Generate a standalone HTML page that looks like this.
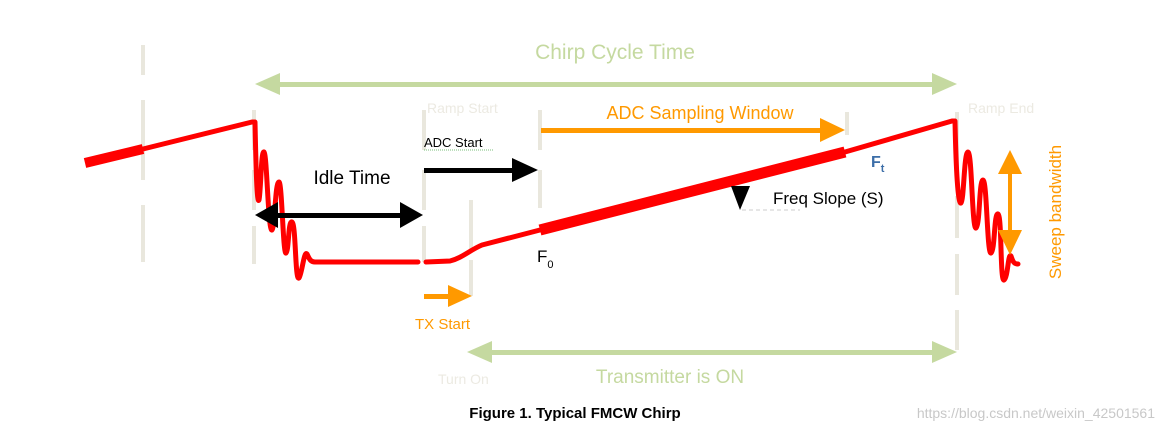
<!DOCTYPE html>
<html><head><style>
body{margin:0;background:#fff;}
svg text{font-family:"Liberation Sans",sans-serif;}
</style></head><body>
<svg width="1162" height="429" viewBox="0 0 1162 429" xmlns="http://www.w3.org/2000/svg">
<g stroke="#e9e7dd" stroke-width="4">
<line x1="143" y1="45" x2="143" y2="75"/><line x1="143" y1="100" x2="143" y2="180"/><line x1="143" y1="205" x2="143" y2="262"/>
<line x1="254" y1="110" x2="254" y2="150"/><line x1="254" y1="170" x2="254" y2="210"/><line x1="254" y1="226" x2="254" y2="264"/>
<line x1="424" y1="110" x2="424" y2="150"/><line x1="424" y1="170" x2="424" y2="210"/><line x1="424" y1="226" x2="424" y2="262"/>
<line x1="471" y1="200" x2="471" y2="250"/><line x1="471" y1="260" x2="471" y2="296"/>
<line x1="540" y1="110" x2="540" y2="150"/><line x1="540" y1="170" x2="540" y2="208"/>
<line x1="847" y1="112" x2="847" y2="135"/>
<line x1="957" y1="112" x2="957" y2="180"/><line x1="957" y1="196" x2="957" y2="238"/><line x1="957" y1="254" x2="957" y2="295"/><line x1="957" y1="310" x2="957" y2="350"/>
</g>
<g fill="#c5d9a0" stroke="none">
<rect x="275" y="82" width="662" height="5"/>
<polygon points="255,84 280,73 280,95"/><polygon points="957,84 932,73 932,95"/>
<rect x="487" y="350" width="450" height="5"/>
<polygon points="467,352 492,341 492,363"/><polygon points="957,352 932,341 932,363"/>
</g>
<text x="615" y="59" font-size="21" fill="#c5d9a0" text-anchor="middle">Chirp Cycle Time</text>
<text x="670" y="383" font-size="19" fill="#c5d9a0" text-anchor="middle">Transmitter is ON</text>
<text x="438" y="384" font-size="14" fill="#eceae2">Turn On</text>
<text x="427" y="113" font-size="14" fill="#eceae2">Ramp Start</text>
<text x="968" y="113" font-size="14" fill="#eceae2">Ramp End</text>
<g fill="none" stroke="#ff0000" stroke-linecap="round" stroke-linejoin="round">
<line x1="85" y1="163" x2="143" y2="149" stroke-width="10" stroke-linecap="butt"/>
<path d="M143,149 L252,122 L255,122 C256,170 257,205 259,200 C261,190 261,150 264,152 C267,154 268,232 272,230 C275,228 275,182 279,182 C282,182 283,255 286,253 C289,251 288,220 292,222 C296,224 295,282 299,278 C302,274 304,250 307,254 C309,258 310,262 315,262 L418,262" stroke-width="5"/>
<path d="M426,262 L450,261 C462,258 470,250 482,245 L540,230" stroke-width="5"/>
<line x1="540" y1="230" x2="845" y2="152" stroke-width="11" stroke-linecap="butt"/>
<path d="M845,152 L952,121 L955,121 C956,170 958,205 961,203 C964,200 964,152 968,152 C972,152 972,230 976,228 C980,226 979,180 983,180 C987,180 987,255 991,253 C995,251 994,212 998,214 C1002,216 1000,282 1004,280 C1008,278 1008,252 1011,256 C1013,262 1014,264 1018,264" stroke-width="5"/>
</g>
<g fill="#000">
<rect x="275" y="213" width="128" height="5"/>
<polygon points="255,215 278,202 278,228"/><polygon points="423,215 400,202 400,228"/>
<rect x="424" y="168" width="92" height="5"/>
<polygon points="538,170 512,158 512,182"/>
<polygon points="731,186 750,186 740,210"/>
</g>
<line x1="742" y1="210" x2="800" y2="210" stroke="#ccc" stroke-width="1" stroke-dasharray="4,3"/>
<text x="352" y="184" font-size="19" fill="#000" text-anchor="middle">Idle Time</text>
<text x="424" y="147" font-size="13" fill="#000">ADC  Start</text>
<line x1="424" y1="150" x2="494" y2="150" stroke="#7bbf7b" stroke-width="1" stroke-dasharray="1,1"/>
<text x="773" y="204" font-size="17" fill="#000">Freq Slope (S)</text>
<text x="537" y="262" font-size="17" fill="#000">F<tspan font-size="11" dy="6">0</tspan></text>
<text x="871" y="167" font-size="16" font-weight="bold" fill="#3c6ea8" font-family="Liberation Serif">F<tspan font-size="11" dy="5">t</tspan></text>
<g fill="#ff9900">
<rect x="541" y="128" width="280" height="5"/>
<polygon points="845,130 820,118 820,142"/>
<rect x="424" y="294" width="26" height="5"/>
<polygon points="472,296 448,285 448,307"/>
<rect x="1008" y="170" width="4" height="70"/>
<polygon points="1010,150 998,174 1022,174"/><polygon points="1010,255 998,230 1022,230"/>
</g>
<text x="700" y="119" font-size="18" fill="#ff9900" text-anchor="middle">ADC Sampling Window</text>
<text x="415" y="329" font-size="15" fill="#ff9900">TX Start</text>
<text transform="translate(1061,212) rotate(-90)" font-size="17" fill="#ff9900" text-anchor="middle">Sweep  bandwidth</text>
<text x="575" y="418" font-size="15" font-weight="bold" fill="#000" text-anchor="middle">Figure 1. Typical FMCW Chirp</text>
<text x="1155" y="418" font-size="14" fill="#c8c8c8" text-anchor="end">https://blog.csdn.net/weixin_42501561</text>
</svg>
</body></html>
